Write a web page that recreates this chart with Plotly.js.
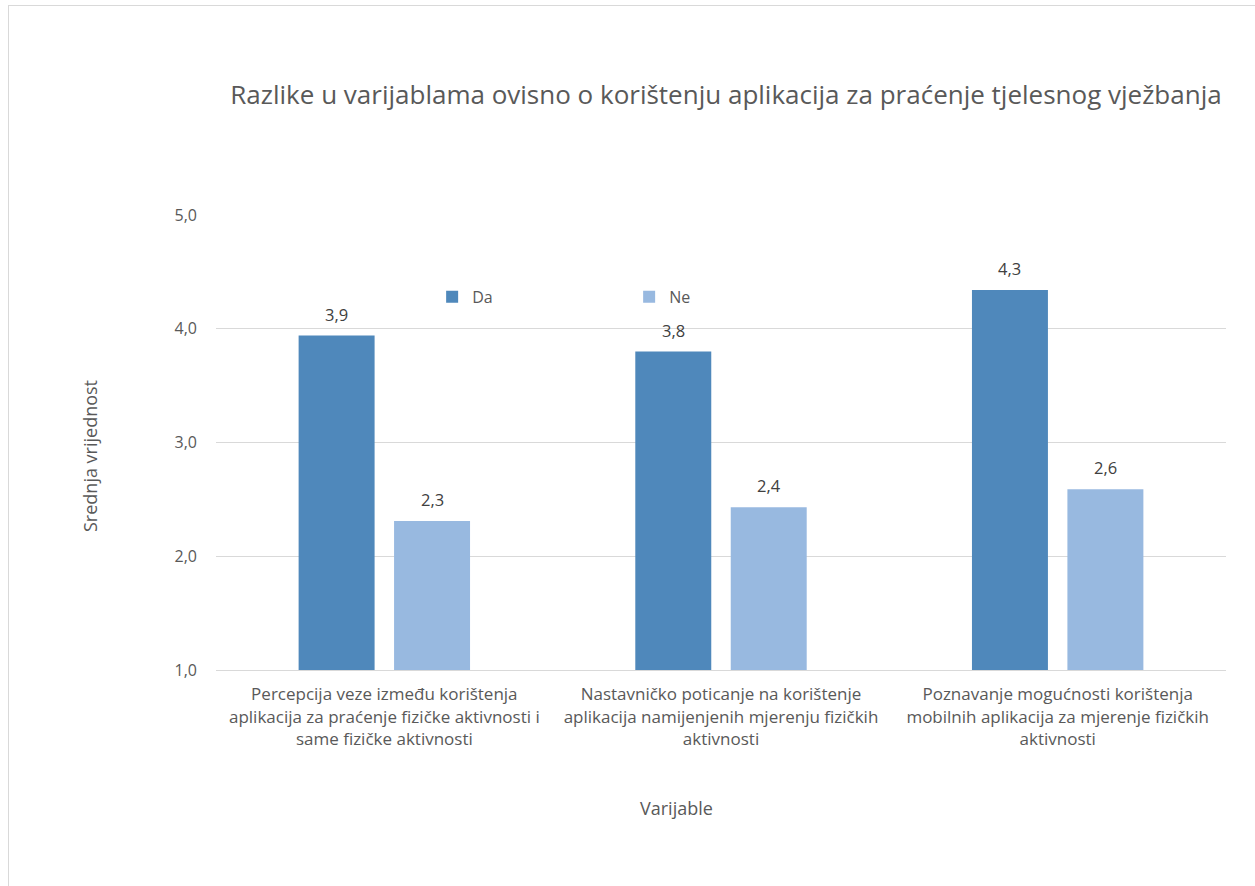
<!DOCTYPE html>
<html>
<head>
<meta charset="utf-8">
<script src="https://cdn.plot.ly/plotly-3.0.1.min.js"></script>
<style>
html,body{margin:0;padding:0;background:#fff;}
#chart{width:1255px;height:886px;position:absolute;left:0;top:0;}
#frame{position:absolute;left:8px;top:5px;width:1300px;height:1000px;border-left:1px solid #d9d9d9;border-top:1px solid #d9d9d9;pointer-events:none;}
</style>
</head>
<body>
<div id="chart"></div>
<div id="frame"></div>
<script>
const categories = [
  "Percepcija veze između korištenja<br>aplikacija za praćenje fizičke aktivnosti i<br>same fizičke aktivnosti",
  "Nastavničko poticanje na korištenje<br>aplikacija namijenjenih mjerenju fizičkih<br>aktivnosti",
  "Poznavanje mogućnosti korištenja<br>mobilnih aplikacija za mjerenje fizičkih<br>aktivnosti"
];
const seriesNames = ["Da", "Ne"];
const daValues = [3.94, 3.80, 4.34];
const neValues = [2.31, 2.43, 2.59];
const yTicks = [1, 2, 3, 4, 5];

const fontFam = "Open Sans, Noto Sans, sans-serif";
const grey = "#595959";
const colors = ["#4f88bb", "#98b9e0"];

const traces = [
  {type:"bar", name:seriesNames[0], x:categories, y:daValues, marker:{color:colors[0]}},
  {type:"bar", name:seriesNames[1], x:categories, y:neValues, marker:{color:colors[1]}}
];

// data labels as annotations placed on the bars' values
const fmt = v => v.toFixed(1).replace(".", ",");
const annotations = [];
[daValues, neValues].forEach((vals, s) => {
  vals.forEach((v, i) => {
    annotations.push({x:categories[i], y:v, xref:"x", yref:"y", text:fmt(v), showarrow:false,
      xshift:(s === 0 ? -47.75 : 47.75), yanchor:"bottom", yshift:8,
      font:{size:16.5, color:"#404040", family:fontFam}});
  });
});
annotations.push({text:"Srednja vrijednost", xref:"paper", yref:"paper", x:(90-216)/1010, y:(670-456)/455,
  textangle:-90, showarrow:false, xanchor:"center", yanchor:"middle", font:{size:18, color:grey, family:fontFam}});
annotations.push({text:"Varijable", xref:"paper", yref:"paper", x:(676-216)/1010, y:-(808-670)/455,
  showarrow:false, xanchor:"center", yanchor:"middle", font:{size:18, color:grey, family:fontFam}});

const layout = {
  width:1255, height:886,
  margin:{l:216, r:29, t:215, b:216, pad:0},
  paper_bgcolor:"#fff", plot_bgcolor:"#fff",
  separators:",.",
  font:{family:fontFam, color:grey, size:16},
  barmode:"group", bargap:0.433, bargroupgap:0.204,
  title:{text:"Razlike u varijablama ovisno o korištenju aplikacija za praćenje tjelesnog vježbanja",
         font:{size:26, color:grey, family:fontFam}, x:726/1255, xanchor:"center", xref:"container",
         y:1-95/886, yref:"container", yanchor:"middle"},
  xaxis:{type:"category", tickfont:{size:17,color:grey}, showline:true, linecolor:"#d9d9d9", linewidth:1,
         ticks:"", automargin:false, tickangle:0, ticklabelstandoff:9},
  yaxis:{range:[1,5], tickvals:yTicks, tickformat:".1f", showgrid:true, gridcolor:"#d9d9d9", gridwidth:1,
         zeroline:false, ticks:"", ticklabelstandoff:18, tickfont:{size:16,color:grey}, automargin:false},
  legend:{orientation:"h", x:0.214, xanchor:"left", y:0.82, yanchor:"middle", entrywidth:152,
          font:{size:16,color:grey}, bgcolor:"rgba(0,0,0,0)"},
  annotations:annotations,
  showlegend:true
};

Plotly.newPlot("chart", traces, layout, {displayModeBar:false, staticPlot:true});
</script>
</body>
</html>
